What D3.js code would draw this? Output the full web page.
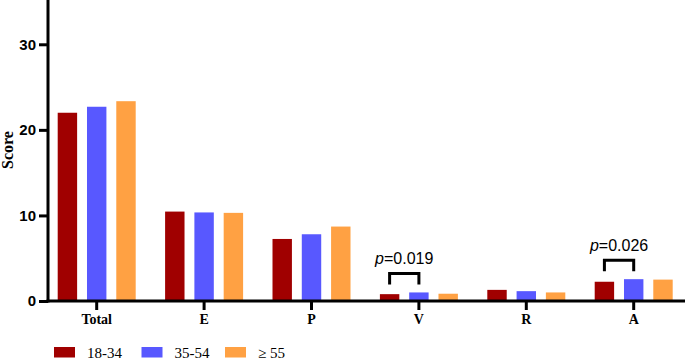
<!DOCTYPE html>
<html>
<head>
<meta charset="utf-8">
<script src="https://cdn.jsdelivr.net/npm/d3@7"></script>
<style>
    body { margin: 0; background: #fff; }
    svg { display: block; }
</style>
</head>
<body>
<div id="chart"></div>
<script>
// data
const categories = ["Total", "E", "P", "V", "R", "A"];
const series = ["18-34", "35-54", "≥ 55"];
const values1834 = [22.0, 10.45, 7.25, 0.8, 1.3, 2.25];
const values3554 = [22.7, 10.35, 7.8, 1.0, 1.15, 2.55];
const values55 = [23.35, 10.3, 8.7, 0.85, 1.0, 2.5];
const yTicks = [0, 10, 20, 30];
const pLabels = [
    { cat: "V", from: "18-34", to: "35-54", text: "0.019" },
    { cat: "A", from: "18-34", to: "35-54", text: "0.026" }
];

const colors = ["#a00000", "#5858ff", "#ffa143"];

const svgWidth = 685,
    svgHeight = 359,
    axisX = 48,
    baseY = 301;

const svg = d3.select("#chart").append("svg")
    .attr("width", svgWidth)
    .attr("height", svgHeight);

// scales
const xScale = d3.scaleBand()
    .domain(categories)
    .range([43, 687.4]);
const xSub = d3.scaleBand()
    .domain(series)
    .range([-39, 39])
    .paddingInner(0.337);
const yScale = d3.scaleLinear()
    .domain([0, 35])
    .range([baseY, baseY - 35 * 8.557]);
const color = d3.scaleOrdinal().domain(series).range(colors);

// table built from arrays
const table = categories.map((c, i) => ({
    cat: c,
    vals: [values1834[i], values3554[i], values55[i]].map((v, j) => ({ key: series[j], v: v }))
}));

// bars
const groups = svg.append("g").selectAll("g")
    .data(table)
    .join("g")
    .attr("transform", (d) => `translate(${xScale(d.cat) + xScale.bandwidth() / 2},0)`);
groups.selectAll("rect")
    .data((d) => d.vals)
    .join("rect")
    .attr("x", (d) => xSub(d.key))
    .attr("y", (d) => yScale(d.v))
    .attr("width", xSub.bandwidth())
    .attr("height", (d) => baseY - yScale(d.v))
    .attr("fill", (d) => color(d.key));

// y axis
const yAxis = svg.append("g")
    .attr("transform", `translate(${axisX},0)`)
    .call(d3.axisLeft(yScale).tickValues(yTicks).tickSize(9).tickPadding(3).tickFormat(d3.format("d")));
yAxis.select(".domain").remove();
yAxis.append("line")
    .attr("x1", 0).attr("x2", 0)
    .attr("y1", 0).attr("y2", baseY + 1.5)
    .attr("stroke", "#000").attr("stroke-width", 3);
yAxis.selectAll(".tick line").attr("stroke", "#000").attr("stroke-width", 3);
yAxis.selectAll(".tick text")
    .attr("fill", "#000")
    .style("font-family", "Liberation Sans, Arial, sans-serif")
    .style("font-weight", "bold")
    .style("font-size", "15px");

// x axis
const xAxis = svg.append("g")
    .attr("transform", `translate(0,${baseY})`)
    .call(d3.axisBottom(xScale).tickSize(9).tickPadding(4));
xAxis.select(".domain").remove();
xAxis.append("line")
    .attr("x1", axisX - 1.5).attr("x2", svgWidth)
    .attr("y1", 0).attr("y2", 0)
    .attr("stroke", "#000").attr("stroke-width", 3);
xAxis.selectAll(".tick line").attr("stroke", "#000").attr("stroke-width", 3);
xAxis.selectAll(".tick text")
    .attr("fill", "#000")
    .style("font-family", "Liberation Serif, Times New Roman, serif")
    .style("font-weight", "bold")
    .style("font-size", "14px");

// axis title
svg.append("text")
    .attr("transform", `translate(13,150) rotate(-90)`)
    .attr("text-anchor", "middle")
    .style("font-family", "Liberation Serif, Times New Roman, serif")
    .style("font-weight", "bold")
    .style("font-size", "16px")
    .text("Score");

// significance brackets
pLabels.forEach((p) => {
    const cx = xScale(p.cat) + xScale.bandwidth() / 2;
    const x1 = cx + xSub(p.from) + xSub.bandwidth() / 2,
        x2 = cx + xSub(p.to) + xSub.bandwidth() / 2;
    const i = categories.indexOf(p.cat);
    const top = Math.max(values1834[i], values3554[i]);
    const yLeg = yScale(top) - 8,
        yTop = yLeg - 11;
    svg.append("path")
        .attr("d", `M${x1},${yLeg}V${yTop}H${x2}V${yLeg}`)
        .attr("fill", "none")
        .attr("stroke", "#000")
        .attr("stroke-width", 3);
    const t = svg.append("text")
        .attr("x", (x1 + x2) / 2)
        .attr("y", yTop - 9)
        .attr("text-anchor", "middle")
        .style("font-family", "Liberation Sans, Arial, sans-serif")
        .style("font-size", "16px");
    t.append("tspan").style("font-style", "italic").text("p");
    t.append("tspan").text("=" + p.text);
});

// legend
const legendX = [54, 141.5, 225];
const legend = svg.append("g").selectAll("g")
    .data(series)
    .join("g")
    .attr("transform", (d, i) => `translate(${legendX[i]},347)`);
legend.append("rect")
    .attr("width", 21)
    .attr("height", 10.5)
    .attr("fill", (d) => color(d));
legend.append("text")
    .attr("x", 33)
    .attr("y", 10.5)
    .style("font-family", "Liberation Serif, Times New Roman, serif")
    .style("font-size", "15px")
    .text((d) => d);
</script>
</body>
</html>
